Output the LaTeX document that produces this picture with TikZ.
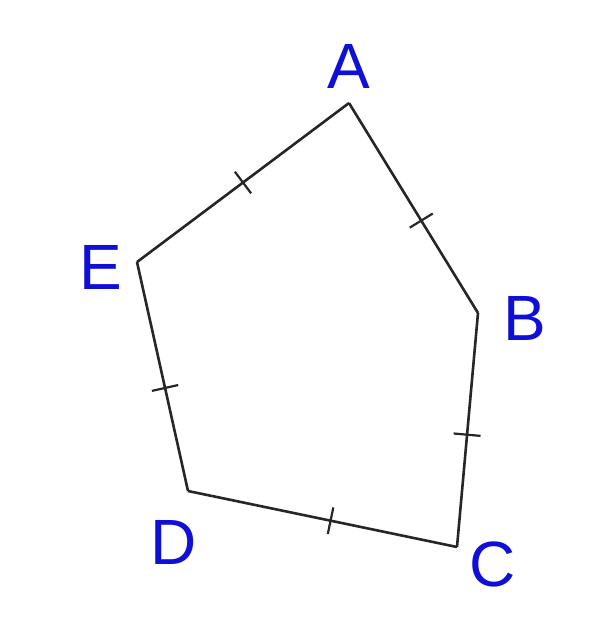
\documentclass[tikz,border=0pt]{standalone}
\usepackage{fontspec}
\setmainfont{Liberation Sans}
\usetikzlibrary{positioning}
\definecolor{labelblue}{RGB}{15,15,215}

\begin{document}
\begin{tikzpicture}[x=1pt,y=-1pt,
  side/.style={line width=2.6pt,draw=black!85},
  tickmark/.style={sloped,draw=black!85,line width=2.2pt,inner sep=0pt,minimum width=0pt,minimum height=27pt},
  vlabel/.style={text=labelblue,inner sep=0pt,font=\fontsize{64}{68}\selectfont}]
\useasboundingbox (0,0) rectangle (615,630);
% corners of the pentagon
\coordinate (A) at (349,103);
\coordinate (B) at (478,313);
\coordinate (C) at (457,547);
\coordinate (D) at (188,491);
\coordinate (E) at (137,262);
% sides with equal-length marks
\draw[side] (E) -- node[tickmark,pos=0.5] (tEA) {} (A);
\draw[side] (A) -- node[tickmark,pos=0.56] (tAB) {} (B);
\draw[side] (B) -- node[tickmark,pos=0.52] (tBC) {} (C);
\draw[side] (D) -- node[tickmark,pos=0.53] (tDC) {} (C);
\draw[side] (E) -- node[tickmark,pos=0.55] (tED) {} (D);
% letters
\node[vlabel] (labA) at (349,66) {A};
\node[vlabel] (labB) at (525,318) {B};
\node[vlabel] (labC) at (493,564) {C};
\node[vlabel] (labD) at (174,542) {D};
\node[vlabel] (labE) at (101,267) {E};
\end{tikzpicture}
\end{document}
